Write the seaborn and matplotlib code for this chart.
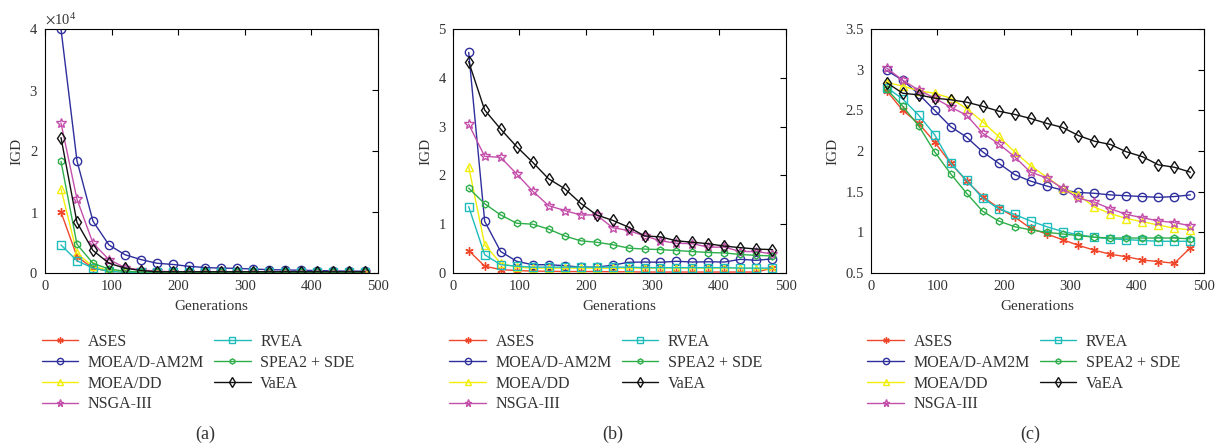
import numpy as np
import pandas as pd
import seaborn as sns
import matplotlib
matplotlib.use('Agg')
import matplotlib.pyplot as plt
from matplotlib.ticker import FuncFormatter, MultipleLocator

# generations (x values shared by all panels)
gens = [24, 48, 72, 96, 120, 144, 168, 192, 216, 240,
        264, 288, 312, 336, 360, 384, 408, 432, 456, 480]

algorithms = ['ASES', 'MOEA/D-AM2M', 'MOEA/DD', 'NSGA-III', 'RVEA', 'SPEA2 + SDE', 'VaEA']

# panel (a), IGD values in units of 1e4
a_ases = [1.00, 0.27, 0.08, 0.03, 0.015, 0.01, 0.01, 0.01, 0.01, 0.01,
          0.01, 0.01, 0.01, 0.01, 0.01, 0.01, 0.01, 0.01, 0.01, 0.01]
a_am2m = [4.00, 1.84, 0.85, 0.46, 0.30, 0.22, 0.16, 0.14, 0.11, 0.09,
          0.08, 0.076, 0.065, 0.055, 0.05, 0.045, 0.04, 0.035, 0.03, 0.03]
a_dd = [1.38, 0.32, 0.11, 0.04, 0.02, 0.015, 0.01, 0.01, 0.01, 0.01,
        0.01, 0.01, 0.01, 0.01, 0.01, 0.01, 0.01, 0.01, 0.01, 0.01]
a_nsga = [2.46, 1.21, 0.49, 0.22, 0.09, 0.05, 0.03, 0.02, 0.02, 0.02,
          0.02, 0.02, 0.02, 0.02, 0.02, 0.02, 0.02, 0.02, 0.02, 0.02]
a_rvea = [0.46, 0.20, 0.08, 0.03, 0.01, 0.01, 0.01, 0.01, 0.01, 0.01,
          0.01, 0.01, 0.01, 0.01, 0.01, 0.01, 0.01, 0.01, 0.01, 0.01]
a_spea = [1.83, 0.47, 0.16, 0.065, 0.03, 0.015, 0.01, 0.01, 0.01, 0.01,
          0.01, 0.01, 0.01, 0.01, 0.01, 0.01, 0.01, 0.01, 0.01, 0.01]
a_vaea = [2.22, 0.83, 0.37, 0.16, 0.08, 0.04, 0.02, 0.02, 0.02, 0.02,
          0.02, 0.02, 0.02, 0.02, 0.02, 0.02, 0.02, 0.02, 0.02, 0.02]

# panel (b)
b_ases = [0.46, 0.14, 0.07, 0.05, 0.04, 0.035, 0.03, 0.03, 0.03, 0.025,
          0.025, 0.02, 0.02, 0.02, 0.02, 0.02, 0.02, 0.02, 0.02, 0.10]
b_am2m = [4.52, 1.06, 0.44, 0.24, 0.17, 0.17, 0.15, 0.12, 0.12, 0.16,
          0.22, 0.225, 0.22, 0.24, 0.225, 0.23, 0.225, 0.28, 0.26, 0.29]
b_dd = [2.18, 0.58, 0.20, 0.12, 0.10, 0.10, 0.10, 0.10, 0.10, 0.10,
        0.10, 0.10, 0.10, 0.10, 0.10, 0.10, 0.10, 0.10, 0.09, 0.08]
b_nsga = [3.05, 2.39, 2.37, 2.03, 1.68, 1.38, 1.28, 1.19, 1.19, 0.93,
          0.87, 0.76, 0.66, 0.61, 0.60, 0.53, 0.53, 0.44, 0.44, 0.39]
b_rvea = [1.36, 0.375, 0.17, 0.14, 0.12, 0.12, 0.12, 0.12, 0.12, 0.12,
          0.12, 0.11, 0.11, 0.11, 0.11, 0.11, 0.11, 0.10, 0.10, 0.10]
b_spea = [1.74, 1.42, 1.19, 1.02, 1.00, 0.90, 0.76, 0.66, 0.63, 0.58,
          0.51, 0.49, 0.48, 0.46, 0.44, 0.42, 0.41, 0.38, 0.36, 0.35]
b_vaea = [4.33, 3.34, 2.95, 2.59, 2.27, 1.93, 1.73, 1.43, 1.19, 1.08,
          0.94, 0.76, 0.74, 0.66, 0.63, 0.60, 0.55, 0.52, 0.49, 0.48]

# panel (c)
c_ases = [2.74, 2.50, 2.34, 2.11, 1.85, 1.63, 1.44, 1.30, 1.19, 1.05,
          0.98, 0.91, 0.84, 0.78, 0.73, 0.70, 0.66, 0.64, 0.62, 0.81]
c_am2m = [2.99, 2.87, 2.70, 2.50, 2.30, 2.17, 1.99, 1.85, 1.71, 1.63,
          1.57, 1.52, 1.49, 1.48, 1.46, 1.45, 1.44, 1.43, 1.44, 1.46]
c_dd = [2.84, 2.80, 2.74, 2.71, 2.65, 2.52, 2.36, 2.18, 1.99, 1.82,
        1.68, 1.54, 1.46, 1.31, 1.23, 1.17, 1.13, 1.09, 1.05, 1.03]
c_nsga = [3.02, 2.87, 2.75, 2.65, 2.54, 2.44, 2.22, 2.09, 1.93, 1.74,
          1.67, 1.54, 1.42, 1.37, 1.29, 1.22, 1.18, 1.14, 1.12, 1.08]
c_rvea = [2.78, 2.64, 2.44, 2.20, 1.85, 1.64, 1.42, 1.29, 1.22, 1.14,
          1.07, 1.01, 0.97, 0.94, 0.92, 0.91, 0.90, 0.89, 0.89, 0.89]
c_spea = [2.76, 2.55, 2.31, 1.99, 1.72, 1.48, 1.26, 1.14, 1.07, 1.03,
          1.00, 0.98, 0.96, 0.94, 0.93, 0.93, 0.93, 0.93, 0.93, 0.92]
c_vaea = [2.84, 2.71, 2.69, 2.65, 2.63, 2.60, 2.55, 2.49, 2.45, 2.40,
          2.34, 2.29, 2.19, 2.12, 2.08, 1.99, 1.93, 1.83, 1.80, 1.74]

panels = [
    ('(a)', [a_ases, a_am2m, a_dd, a_nsga, a_rvea, a_spea, a_vaea], 1e4),
    ('(b)', [b_ases, b_am2m, b_dd, b_nsga, b_rvea, b_spea, b_vaea], 1),
    ('(c)', [c_ases, c_am2m, c_dd, c_nsga, c_rvea, c_spea, c_vaea], 1),
]

colors = ['#f0472b', '#2e2e9c', '#f2ee0a', '#c44fab', '#1fbcbc', '#2eae4a', '#111111']
markers = [(6, 2, 0), 'o', '^', '*', 's', 'h', 'd']
msizes = [6, 6, 6, 7, 5.5, 5, 6.5]

sns.set_style('white')
plt.rcParams['font.family'] = ['Liberation Serif', 'DejaVu Serif']
plt.rcParams['mathtext.fontset'] = 'stix'
plt.rcParams['axes.linewidth'] = 0.8

fig = plt.figure(figsize=(12.26, 4.47), dpi=100)
lefts = [45, 452.7, 870.7]
txt = '#333333'

for (tag, series, scale), left in zip(panels, lefts):
    ax = fig.add_axes([left / 1226, 1 - 273 / 447, 333 / 1226, 244 / 447])
    for name, vals, col, mk, ms in zip(algorithms, series, colors, markers, msizes):
        df = pd.DataFrame({'Generations': gens, 'IGD': np.array(vals) * scale})
        sns.lineplot(data=df, x='Generations', y='IGD', ax=ax, color=col, marker=mk,
                     markersize=ms, markerfacecolor='none', markeredgecolor=col,
                     markeredgewidth=1.0, linewidth=1.0, label=name)
    ax.set_xlim(0, 500)
    ax.xaxis.set_major_locator(MultipleLocator(100))
    if tag == '(a)':
        ax.set_ylim(0, 4e4)
        ax.yaxis.set_major_locator(MultipleLocator(1e4))
        ax.ticklabel_format(axis='y', style='sci', scilimits=(0, 0), useMathText=True)
        ax.yaxis.get_offset_text().set_fontsize(10.5)
        ax.yaxis.get_offset_text().set_color(txt)
    elif tag == '(b)':
        ax.set_ylim(0, 5)
        ax.yaxis.set_major_locator(MultipleLocator(1))
    else:
        ax.set_ylim(0.5, 3.5)
        ax.yaxis.set_major_locator(MultipleLocator(0.5))
        ax.yaxis.set_major_formatter(FuncFormatter(lambda v, p: '%g' % v))
    ax.tick_params(direction='in', top=True, right=True, length=4, width=0.8,
                   labelsize=10.5, colors='black', labelcolor=txt, pad=5)
    for sp in ax.spines.values():
        sp.set_color('black')
    ax.set_xlabel('Generations', fontsize=11, color=txt, labelpad=5)
    ax.set_ylabel('IGD', fontsize=11, color=txt, labelpad=4)
    ax.legend(ncol=2, loc='upper left', bbox_to_anchor=(-0.01, -0.25), frameon=False,
              fontsize=11.5, handlelength=2.3, handletextpad=0.6, columnspacing=0.6,
              labelspacing=0.3, labelcolor=txt, borderaxespad=0, borderpad=0,
              markerscale=0.75)
    fig.text((left + 160) / 1226, 1 - 434 / 447, tag, fontsize=13, color=txt,
             ha='center', va='center')

fig.savefig('out.png', dpi=100, facecolor='white')
